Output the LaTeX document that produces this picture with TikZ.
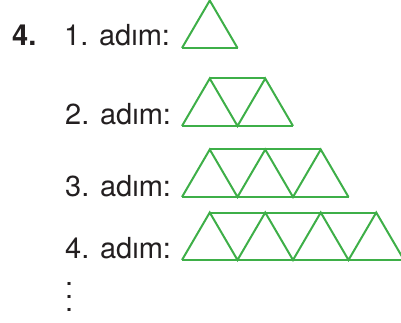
\documentclass[tikz,border=0pt]{standalone}
\usepackage{fontspec}
\setmainfont{TeX Gyre Heros}
\definecolor{ucgenyesil}{RGB}{62,175,72}
\definecolor{yazi}{RGB}{35,31,32}
\tikzset{
  adim/.style={anchor=base west,inner sep=0pt,text=yazi,font=\fontsize{29}{33}\selectfont},
  ucgen/.style={draw=ucgenyesil,line width=2pt}
}
\begin{document}
\begin{tikzpicture}[x=1pt,y=-1pt]
    \useasboundingbox (0,0) rectangle (401,323);

    \node[adim,font=\fontsize{29}{33}\selectfont\bfseries] (soru) at (12,46) {4.};
    \node[adim] (adim1) at (64,46) {1. adım:};
    \node[adim] (adim2) at (65,125) {2. adım:};
    \node[adim] (adim3) at (65,196) {3. adım:};
    \node[adim] (adim4) at (65,258) {4. adım:};
    \node[adim] (nokta) at (65,311.5) {\vbox{\baselineskip=13pt\hbox{.}\hbox{.}\hbox{.}}};

    \foreach \n/\b in {1/48,2/126,3/197,4/260}{
        \draw[ucgen] (182,\b) -- ++(\n*55.5,0);
        \draw[ucgen] (182,\b) \foreach \i in {1,...,\n}{ -- ++(27.75,-47.5) -- ++(27.75,47.5)};
        \draw[ucgen] (209.75,\b-47.5) -- ++({(\n-1)*55.5},0);
    }
\end{tikzpicture}
\end{document}
